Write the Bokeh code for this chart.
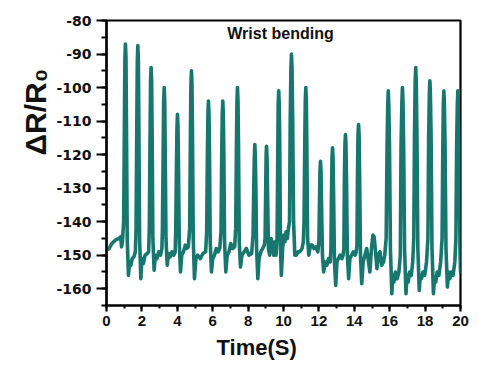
from bokeh.plotting import figure
from bokeh.models import (Range1d, SingleIntervalTicker, Label, ColumnDataSource, Title,
                          PrintfTickFormatter)
from bokeh.embed import file_html
from bokeh.resources import INLINE

# ---- data ----
time_s = [
    0.00, 0.15, 0.30, 0.50, 0.70, 0.80, 0.85, 0.90,
    0.97, 1.01, 1.04, 1.07, 1.10, 1.13, 1.17, 1.24, 1.30, 1.38, 1.45, 1.55, 1.63,
    1.67, 1.71, 1.74, 1.77, 1.80, 1.83, 1.87, 1.94, 2.00, 2.08, 2.18, 2.30, 2.38,
    2.42, 2.46, 2.49, 2.52, 2.55, 2.58, 2.62, 2.69, 2.76, 2.85, 2.95, 3.05, 3.13,
    3.16, 3.20, 3.23, 3.26, 3.29, 3.32, 3.36, 3.43, 3.50, 3.60, 3.70, 3.80, 3.88,
    3.91, 3.95, 3.98, 4.01, 4.04, 4.07, 4.11, 4.18, 4.25, 4.35, 4.45, 4.52, 4.62,
    4.70, 4.74, 4.77, 4.80, 4.83, 4.86, 4.90, 4.97, 5.05, 5.15, 5.30, 5.45, 5.60,
    5.66, 5.70, 5.73, 5.76, 5.79, 5.82, 5.86, 5.93, 6.00, 6.10, 6.20, 6.30, 6.40,
    6.47, 6.51, 6.54, 6.57, 6.60, 6.63, 6.67, 6.74, 6.82, 6.92, 7.02, 7.12, 7.24,
    7.30, 7.34, 7.37, 7.40, 7.43, 7.46, 7.50, 7.57, 7.65, 7.78, 7.90, 8.05, 8.20,
    8.28, 8.32, 8.35, 8.38, 8.41, 8.44, 8.48, 8.55, 8.62, 8.72, 8.82, 8.92,
    8.96, 9.00, 9.02, 9.04, 9.07, 9.10, 9.15, 9.22, 9.30, 9.38, 9.45, 9.52, 9.58,
    9.64, 9.68, 9.70, 9.73, 9.76, 9.79, 9.83, 9.88, 9.95, 10.02, 10.08, 10.14, 10.22, 10.28,
    10.34, 10.38, 10.42, 10.45, 10.48, 10.52, 10.57, 10.64, 10.72, 10.82, 10.92, 11.05, 11.12,
    11.16, 11.20, 11.23, 11.26, 11.29, 11.32, 11.36, 11.43, 11.52, 11.62, 11.72, 11.82, 11.94,
    12.00, 12.03, 12.06, 12.09, 12.12, 12.15, 12.20, 12.27, 12.35, 12.45, 12.55, 12.64,
    12.68, 12.71, 12.74, 12.77, 12.80, 12.83, 12.88, 12.95, 13.02, 13.10, 13.20, 13.30, 13.37,
    13.41, 13.44, 13.47, 13.50, 13.53, 13.56, 13.61, 13.68, 13.75, 13.85, 13.95, 14.05, 14.11,
    14.15, 14.18, 14.21, 14.24, 14.27, 14.30, 14.35, 14.42, 14.50, 14.60, 14.70, 14.78, 14.88,
    14.97, 15.05, 15.12, 15.20, 15.28, 15.36, 15.45, 15.55, 15.65, 15.72,
    15.80, 15.85, 15.89, 15.92, 15.95, 15.99, 16.04, 16.12, 16.18, 16.24, 16.32, 16.42, 16.52,
    16.60, 16.64, 16.69, 16.72, 16.75, 16.79, 16.84, 16.92, 16.98, 17.05, 17.12, 17.22, 17.30,
    17.36, 17.40, 17.44, 17.47, 17.50, 17.54, 17.59, 17.67, 17.73, 17.80, 17.88, 17.98, 18.08,
    18.16, 18.20, 18.24, 18.27, 18.30, 18.34, 18.39, 18.47, 18.53, 18.60, 18.68, 18.78, 18.88,
    18.96, 19.00, 19.03, 19.06, 19.09, 19.13, 19.18, 19.26, 19.32, 19.40, 19.48, 19.58, 19.68,
    19.74, 19.78, 19.82, 19.85, 19.88, 19.92, 19.97, 20.00,
]
dr_r0 = [
    -148.5, -148, -146.5, -145.5, -145, -144.5, -147.5, -146,
    -140, -112, -91, -87, -91, -112, -145, -156, -152, -153, -151, -150.5, -149,
    -142, -112, -92, -87.5, -92, -112, -145, -157, -151, -152.5, -150, -149.5, -149,
    -142, -115, -98, -94, -98, -115, -145, -154.5, -150, -151, -149, -150, -148,
    -142, -120, -104, -100, -104, -120, -145, -153, -149.5, -150.5, -149, -150, -149,
    -143, -125, -112, -108, -112, -125, -146, -155, -150, -149, -147, -148, -147.5,
    -142, -115, -99, -95, -99, -115, -145, -157, -151, -150, -151, -149.5, -149,
    -143, -120, -108, -104, -108, -120, -146, -155, -151, -150, -148, -149, -148,
    -143, -120, -108, -104, -108, -120, -146, -155, -150, -149, -146.5, -148, -147.5,
    -142, -118, -104, -100, -104, -118, -146, -153.5, -150, -149, -148, -150, -149.5,
    -144, -130, -121, -117, -121, -130, -148, -157, -151, -149, -148, -147,
    -145, -128, -120, -117.5, -121, -132, -148, -150, -145, -147, -150, -146, -150,
    -144, -118, -105, -101, -105, -118, -148, -156, -148, -144, -146, -143, -145, -142,
    -140, -110, -94, -90, -94, -110, -140, -150, -150, -149, -149, -148, -146,
    -140, -118, -104, -100, -104, -118, -145, -150, -147, -147, -148, -147.5, -149,
    -146, -135, -125, -122, -125, -135, -150, -155, -152, -153, -151, -152,
    -148, -132, -121, -118, -121, -132, -152, -159, -152, -151, -150, -151, -150,
    -148, -128, -117, -114, -117, -128, -150, -157, -151, -150, -149, -150, -149,
    -147, -126, -114, -111, -114, -126, -150, -158.5, -152, -150, -148, -151, -155,
    -148, -144, -144.5, -149, -154, -150, -149, -153, -152, -150,
    -145, -118, -105, -101, -105, -118, -148, -161.5, -156, -158, -155, -157, -155,
    -150, -118, -104, -100, -104, -118, -148, -161.5, -156, -158, -155, -156, -152,
    -145, -115, -98, -94, -98, -115, -148, -160.5, -156, -157, -155, -156, -152,
    -145, -115, -102, -98, -102, -115, -148, -161.5, -157, -158, -155, -156, -152,
    -145, -118, -105, -101, -105, -118, -148, -159.5, -155, -157, -155, -156, -152,
    -145, -118, -105, -101, -105, -118, -148, -155,
]

x_label = "Time(S)"
y_label = "ΔR/R₀"
title_text = "Wrist bending"

line_color = "#17776e"
ink = "#111111"

p = figure(width=483, height=365, output_backend="svg", toolbar_location=None,
           x_range=Range1d(0, 20), y_range=Range1d(-165, -80),
           min_border_left=106, min_border_right=23, min_border_top=20,
           min_border_bottom=60)

p.xgrid.visible = False
p.ygrid.visible = False
p.background_fill_color = "white"
p.border_fill_color = "white"
p.outline_line_color = "black"
p.outline_line_width = 2.2

src = ColumnDataSource(dict(t=time_s, v=dr_r0))
p.line("t", "v", source=src, line_color=line_color, line_width=3.6,
       line_join="round", line_cap="round")

p.xaxis.ticker = SingleIntervalTicker(interval=2, num_minor_ticks=2)
p.yaxis.ticker = SingleIntervalTicker(interval=10, num_minor_ticks=2)
p.yaxis.formatter = PrintfTickFormatter(format="%d")

for ax in (p.xaxis[0], p.yaxis[0]):
    ax.axis_line_color = "black"
    ax.axis_line_width = 2.2
    ax.major_tick_line_color = "black"
    ax.major_tick_line_width = 2.2
    ax.minor_tick_line_color = "black"
    ax.minor_tick_line_width = 2
    ax.major_tick_in = 0
    ax.minor_tick_in = 0
    ax.major_label_text_color = ink
    ax.major_label_text_font_style = "bold"

p.xaxis.major_tick_out = 6
p.xaxis.minor_tick_out = 3
p.yaxis.major_tick_out = 10
p.yaxis.minor_tick_out = 5
p.xaxis.major_label_text_font = "Liberation Sans"
p.xaxis.major_label_text_font_size = "15px"
p.xaxis.major_label_standoff = 4
p.yaxis.major_label_text_font = "DejaVu Sans"
p.yaxis.major_label_text_font_size = "14px"
p.yaxis.major_label_standoff = 5

# axis titles placed in the side panels
p.add_layout(Title(text=x_label, align="left", offset=110, standoff=8,
                   text_font="Liberation Sans", text_font_style="bold",
                   text_font_size="22px", text_color=ink), "below")
p.add_layout(Title(text=y_label, align="left", offset=150, standoff=4,
                   text_font="Liberation Sans", text_font_style="bold",
                   text_font_size="30px", text_color=ink), "left")

p.add_layout(Label(x=9.83, y=-84.0, text=title_text, text_font="Liberation Sans",
                   text_font_style="bold", text_font_size="16px", text_color=ink,
                   text_align="center", text_baseline="middle"))

open("out.html", "w").write(file_html(p, INLINE))
